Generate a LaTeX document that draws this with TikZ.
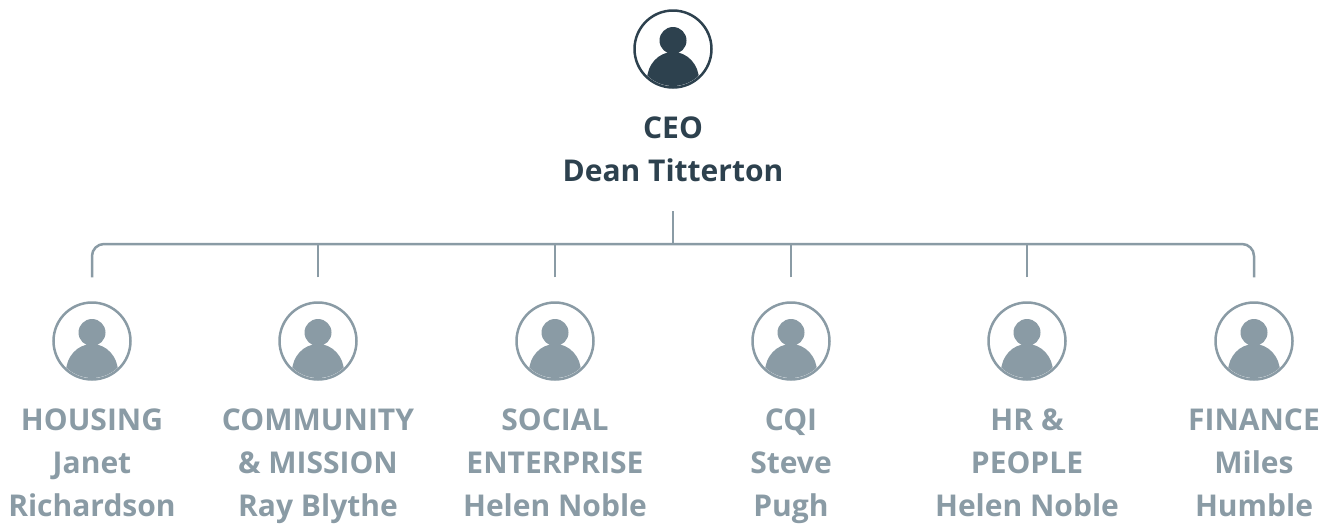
\documentclass[tikz,border=0pt]{standalone}
\usepackage{fontspec}
\setmainfont{Open Sans}
\definecolor{boss}{HTML}{2D414E}
\definecolor{staff}{HTML}{8A9BA5}
\tikzset{
  icon/.style={circle, draw, line width=2.5pt, minimum size=77pt, inner sep=0pt},
  label/.style={align=center, anchor=north, inner sep=0pt,
    font=\fontsize{30}{43}\selectfont\bfseries},
  link/.style={draw=staff, line width=2.5pt},
}
\begin{document}
\begin{tikzpicture}[x=1pt,y=-1pt]
  \useasboundingbox (0,0) rectangle (1333,523);

  % icons
  \begin{scope}[every node/.style={icon}]
    \node[draw=boss]  (ceo) at (673,49)  {};
    \node[draw=staff] (1)   at (92,341)  {};
    \node[draw=staff] (2)   at (318,341) {};
    \node[draw=staff] (3)   at (555,341) {};
    \node[draw=staff] (4)   at (791,341) {};
    \node[draw=staff] (5)   at (1027,341) {};
    \node[draw=staff] (6)   at (1254,341) {};
  \end{scope}

  \foreach \n/\c in {ceo/boss,1/staff,2/staff,3/staff,4/staff,5/staff,6/staff} {
    \begin{scope}
      \clip (\n.center) circle (37);
      \fill[\c] (\n.center) ++(0,31) ellipse [x radius=26, y radius=28];
    \end{scope}
    \fill[\c] (\n.center) ++(0,-8.5) circle (13.5);
  }

  % names
  \node[label, text=boss] (ceotxt) at (673,117) {CEO\\Dean Titterton};
  \begin{scope}[every node/.style={label, text=staff}]
    \node (t1) at (92,409)   {HOUSING\\Janet\\Richardson};
    \node (t2) at (318,409)  {COMMUNITY\\\&~MISSION\\Ray Blythe};
    \node (t3) at (555,409)  {SOCIAL\\ENTERPRISE\\Helen Noble};
    \node (t4) at (791,409)  {CQI\\Steve\\Pugh};
    \node (t5) at (1027,409) {HR \&\\PEOPLE\\Helen Noble};
    \node (t6) at (1254,409) {FINANCE\\Miles\\Humble};
  \end{scope}

  % connectors
  \coordinate (top) at (673,211);
  \coordinate (bar) at (673,244);
  \path[link] (top) -- (bar);
  \path[link, rounded corners=12] ([yshift=24]1.north) |- (bar) -| ([yshift=24]6.north);
  \foreach \n in {2,3,4,5}
    \path[link] ([yshift=24]\n.north) -- (bar -| \n.north);

\end{tikzpicture}
\end{document}
